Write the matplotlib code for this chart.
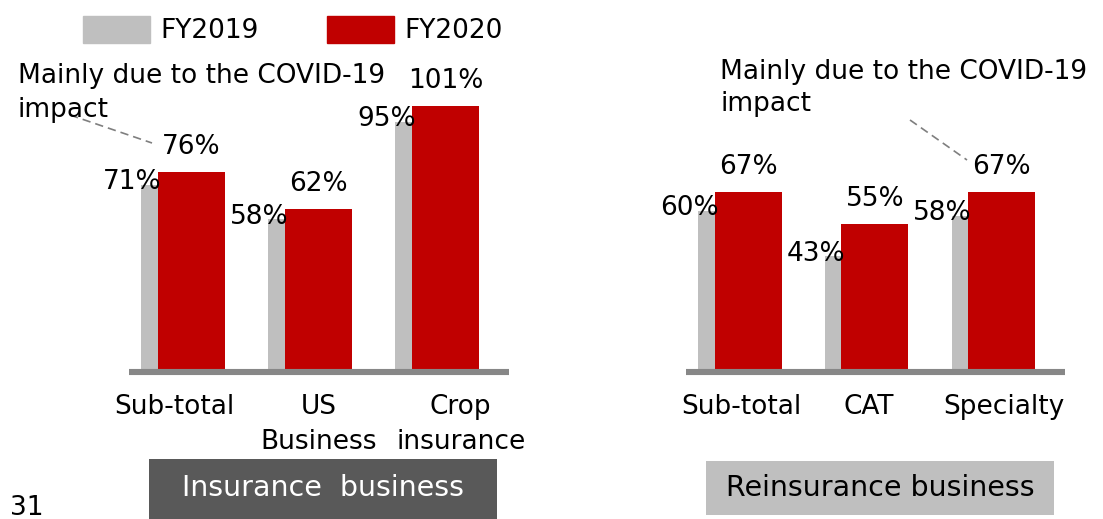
import matplotlib
matplotlib.use("Agg")
import matplotlib.pyplot as plt
from matplotlib.patches import Patch, Rectangle

plt.rcParams['font.family'] = ['DejaVu Sans']

# data
ins_cats = ['Sub-total', 'US\nBusiness', 'Crop\ninsurance']
ins_fy2019 = [71, 58, 95]
ins_fy2020 = [76, 62, 101]

re_cats = ['Sub-total', 'CAT', 'Specialty']
re_fy2019 = [60, 43, 58]
re_fy2020 = [67, 55, 67]

note_lines = ['Mainly due to the COVID-19', 'impact']

GRAY = '#BFBFBF'
RED = '#C00000'
BASE = '#878787'
W, H = 1103, 519
FS = 19

fig = plt.figure(figsize=(W / 100, H / 100), dpi=100)


def px(x, y):
    # top-left pixel -> figure fraction
    return x / W, 1 - y / H


def panel(left, right, bottom, scale, cats, v19, v20, label_shift):
    ymax = 120
    ax = fig.add_axes([left / W, (H - bottom) / H, (right - left) / W, ymax * scale / H])
    x = range(len(cats))
    bw = 0.53
    off = 0.13
    ax.bar([i - off for i in x], v19, width=bw, color=GRAY, zorder=1)
    ax.bar(list(x), v20, width=bw, color=RED, zorder=2)
    ax.axhline(0, color=BASE, lw=4.4, zorder=3, clip_on=False, solid_capstyle='butt')
    ax.set_xlim(-0.49, 2.5)
    ax.set_ylim(0, ymax)
    for s in ax.spines.values():
        s.set_visible(False)
    ax.set_yticks([])
    ax.set_xticks([i + d for i, d in zip(x, label_shift)])
    ax.set_xticklabels(cats, fontsize=FS, linespacing=1.45)
    ax.tick_params(axis='x', length=0, pad=16)
    for i in x:
        ax.annotate(f'{v20[i]}%', (i, v20[i]), xytext=(0, 18), textcoords='offset points',
                    ha='center', va='center', fontsize=FS, zorder=5)
        ax.annotate(f'{v19[i]}%', (i - bw / 2 + 0.03, v19[i]), xytext=(0, 2),
                    textcoords='offset points', ha='right', va='center', fontsize=FS, zorder=5)
    return ax


panel(129, 509, 372, 2.63, ins_cats, ins_fy2019, ins_fy2020, [-0.13, 0.0, 0.12])
panel(686, 1065, 372, 2.69, re_cats, re_fy2019, re_fy2020, [-0.05, -0.05, 0.02])

# legend
handles = [Patch(color=GRAY, label='FY2019'), Patch(color=RED, label='FY2020')]
fig.legend(handles=handles, loc='upper left', bbox_to_anchor=px(83, 16), ncol=2,
           frameon=False, fontsize=FS, handlelength=2.54, handleheight=1.2,
           handletextpad=0.38, columnspacing=2.6, borderpad=0, borderaxespad=0)

# annotations (one text per line)
for xl, ys in [(18, (76, 110)), (720, (72, 104))]:
    for line, yl in zip(note_lines, ys):
        fig.text(*px(xl, yl), line, fontsize=FS, ha='left', va='center')
fig.add_artist(plt.Line2D(*zip(px(70, 115), px(152, 143)), color='#7F7F7F', lw=1.2,
                          ls=(0, (5, 3))))
fig.add_artist(plt.Line2D(*zip(px(910, 120), px(967, 160)), color='#7F7F7F', lw=1.2,
                          ls=(0, (5, 3))))

# segment boxes
x0, y1 = px(149, 519)
x1, y0 = px(497, 459)
fig.add_artist(Rectangle((x0, y1), x1 - x0, y0 - y1, transform=fig.transFigure,
                         color='#595959', lw=0))
fig.text(*px(323, 488), 'Insurance  business', color='white', fontsize=20.5,
         ha='center', va='center')
x0, y1 = px(706, 515)
x1, y0 = px(1054, 461)
fig.add_artist(Rectangle((x0, y1), x1 - x0, y0 - y1, transform=fig.transFigure,
                         color=GRAY, lw=0))
fig.text(*px(880, 488), 'Reinsurance business', color='black', fontsize=20.5,
         ha='center', va='center')

fig.text(*px(10, 495), '31', fontsize=FS, ha='left', va='top')

fig.savefig('out.png', dpi=100)
